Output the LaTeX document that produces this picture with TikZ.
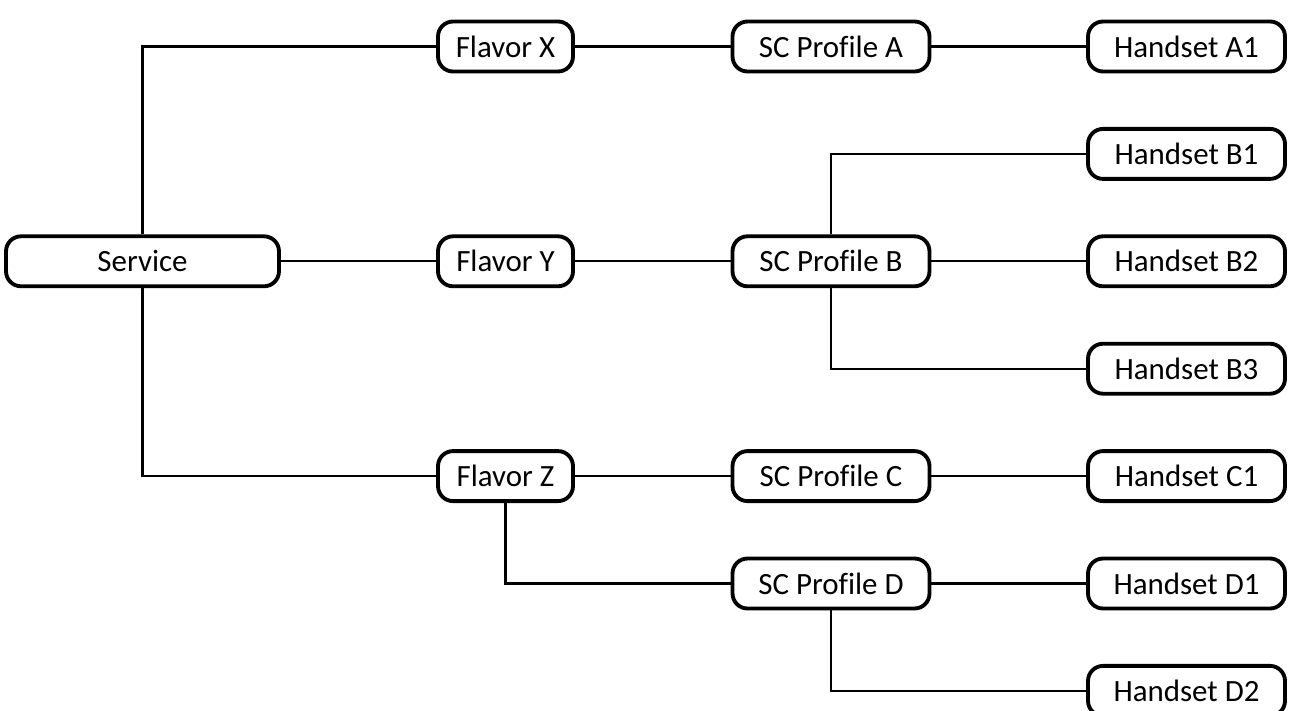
\documentclass[tikz,border=0pt]{standalone}
\usepackage{fontspec}
\setmainfont{Carlito}[Ligatures=NoCommon]
\begin{document}
\begin{tikzpicture}[
    x=0.02cm, y=-0.02cm,
    box/.style={draw,rounded corners=0.3cm,line width=2.2pt,minimum height=1.0cm,inner sep=0pt,font=\fontsize{17.6}{21}\selectfont},
    service/.style={box,minimum width=5.46cm},
    flavor/.style={box,minimum width=2.7cm},
    profile/.style={box,minimum width=3.94cm},
    handset/.style={box,minimum width=3.94cm},
    link/.style={line width=1.3pt}
    ]
    \useasboundingbox (0,0) rectangle (1297,710);

    \node (service) at (142.5, 261.3) [service] {Service};
    \node (fx) at (505.5, 46.5) [flavor] {Flavor X};
    \node (fy) at (505.5, 261.3) [flavor] {Flavor Y};
    \node (fz) at (505.5, 476.1) [flavor] {Flavor Z};
    \node (pa) at (831, 46.5) [profile] {SC Profile A};
    \node (pb) at (831, 261.3) [profile] {SC Profile B};
    \node (pc) at (831, 476.1) [profile] {SC Profile C};
    \node (pd) at (831, 583.5) [profile] {SC Profile D};
    \node (ha1) at (1186.5, 46.5) [handset] {Handset A1};
    \node (hb1) at (1186.5, 153.9) [handset] {Handset B1};
    \node (hb2) at (1186.5, 261.3) [handset] {Handset B2};
    \node (hb3) at (1186.5, 368.7) [handset] {Handset B3};
    \node (hc1) at (1186.5, 476.1) [handset] {Handset C1};
    \node (hd1) at (1186.5, 583.5) [handset] {Handset D1};
    \node (hd2) at (1186.5, 690.9) [handset] {Handset D2};
    \draw [link] (service) |- (fx);
    \draw [link] (service) to (fy);
    \draw [link] (service) |- (fz);
    \draw [link] (fx) to (pa);
    \draw [link] (fy) to (pb);
    \draw [link] (fz) to (pc);
    \draw [link] (fz) |- (pd);
    \draw [link] (pa) to (ha1);
    \draw [link] (pb) |- (hb1);
    \draw [link] (pb) to (hb2);
    \draw [link] (pb) |- (hb3);
    \draw [link] (pc) to (hc1);
    \draw [link] (pd) to (hd1);
    \draw [link] (pd) |- (hd2);

  \end{tikzpicture}
\end{document}
